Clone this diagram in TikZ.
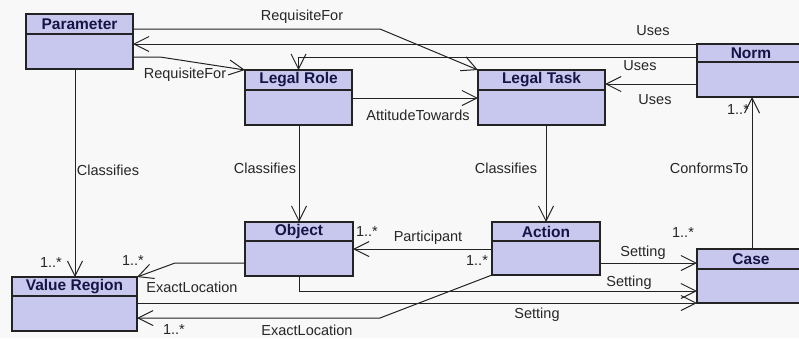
\documentclass[tikz,border=0pt]{standalone}
\usepackage{fontspec}
\setmainfont{Liberation Sans}
\usetikzlibrary{arrows.meta,calc}
\definecolor{boxfill}{RGB}{200,200,238}
\definecolor{titlecol}{RGB}{20,20,70}
\definecolor{linecol}{RGB}{35,35,35}
\definecolor{bgcol}{RGB}{248,248,248}
\tikzset{
  clsbox/.style={draw=linecol, fill=boxfill, line width=1.2pt, inner sep=0pt, outer sep=0pt, anchor=north west},
  clsline/.style={draw=linecol, line width=1.1pt},
  clstitle/.style={font=\bfseries\fontsize{15.5}{17}\selectfont, text=titlecol, inner sep=0pt},
  assoc/.style={draw=linecol, line width=1pt, -{Straight Barb[length=15pt,width=15pt,line width=1pt]}},
  plain/.style={draw=linecol, line width=1pt},
  lbl/.style={font=\fontsize{14.5}{16}\selectfont, text=black!85, inner sep=0pt},
}
\newcommand\umlcls[7]{%
  \node[clsbox, minimum width={#4-#2}, minimum height={#5-#3}] (#1) at (#2,#3) {};
  \draw[clsline] (#1.west |- 0,#6) -- (#1.east |- 0,#6);
  \node[clstitle] at ($(#1.north)!0.5!(#1.north |- 0,#6)$) {#7};
}
\begin{document}
\begin{tikzpicture}[x=1pt,y=-1pt]
\useasboundingbox (0,0) rectangle (799,338);
\fill[bgcol] (0,0) rectangle (799,338);
\clip (0,0) rectangle (799,338);

\umlcls{param}{26}{14}{133}{69}{34}{Parameter}
\umlcls{lrole}{245}{70}{352}{125}{90}{Legal Role}
\umlcls{ltask}{478}{70}{605}{125}{90}{Legal Task}
\umlcls{norm}{697}{44}{805}{97}{62}{Norm}
\umlcls{object}{245}{222}{353}{276}{241}{Object}
\umlcls{action}{492}{222}{600}{275}{241}{Action}
\umlcls{case}{697}{249}{805}{303}{269}{Case}
\umlcls{vreg}{12}{277}{137}{331}{296}{Value Region}

% RequisiteFor (top) Parameter -> Legal Task
\draw[assoc] (param.east |- 0,29) -- (380,29) -- (ltask.north west);
\node[lbl] at (302,17) {RequisiteFor};
% Uses Norm -> Parameter
\draw[assoc] (norm.north west) -- (param.east |- norm.north west);
\node[lbl] at (653,31) {Uses};
% Uses Norm -> Legal Role
\draw[assoc] (norm.west |- 0,57) -- (lrole.north |- 0,57) -- (lrole.north);
\node[lbl] at (640,66) {Uses};
% Uses Norm -> Legal Task
\draw[assoc] (norm.west |- 0,84) -- (ltask.east |- 0,84);
\node[lbl] at (655,100) {Uses};
% RequisiteFor Parameter -> Legal Role
\draw[assoc] (param.east |- 0,57) -- (160,57) -- (lrole.north west);
\node[lbl] at (185,75) {RequisiteFor};
% AttitudeTowards
\draw[assoc] (lrole.east |- 0,98) -- (ltask.west |- 0,98);
\node[lbl] at (418,115) {AttitudeTowards};
% Classifies Parameter -> Value Region
\draw[assoc] (75,0 |- param.south) -- (75,0 |- vreg.north);
\node[lbl] at (108,170) {Classifies};
\node[lbl] at (51,263) {1..*};
% Classifies Legal Role -> Object
\draw[assoc] (lrole.south -| object.north) -- (object.north);
\node[lbl] at (265,168) {Classifies};
% Classifies Legal Task -> Action
\draw[assoc] (ltask.south -| action.north) -- (action.north);
\node[lbl] at (506,168) {Classifies};
% ConformsTo Case -> Norm
\draw[assoc] (752,0 |- case.north) -- (752,0 |- norm.south);
\node[lbl] at (709,168) {ConformsTo};
\node[lbl] at (738,110) {1..*};
% Participant Action -> Object
\draw[assoc] (action.west |- 0,249) -- (object.east |- 0,249);
\node[lbl] at (428,238) {Participant};
\node[lbl] at (367,232) {1..*};
\node[lbl] at (477,261) {1..*};
% ExactLocation Object -> Value Region
\draw[assoc] (object.west |- 0,263) -- (175,263) -- (vreg.north east);
\node[lbl] at (192,287) {ExactLocation};
\node[lbl] at (133,261) {1..*};
% Setting Action -> Case
\draw[assoc] (action.east |- 0,263) -- (case.west |- 0,263);
\node[lbl] at (643,253) {Setting};
\node[lbl] at (683,233) {1..*};
% Setting Object -> Case
\draw[assoc] (object.south) -- (object.south |- 0,291) -- (case.west |- 0,291);
\node[lbl] at (629,283) {Setting};
% Setting Value Region -> Case
\draw[assoc] (vreg.east |- case.south west) -- (case.south west);
\node[lbl] at (537,315) {Setting};
% ExactLocation Action -> Value Region
\draw[assoc] (action.south west) -- (380,318) -- (vreg.east |- 0,318);
\node[lbl] at (307,330) {ExactLocation};
\node[lbl] at (174,330) {1..*};
\end{tikzpicture}
\end{document}
